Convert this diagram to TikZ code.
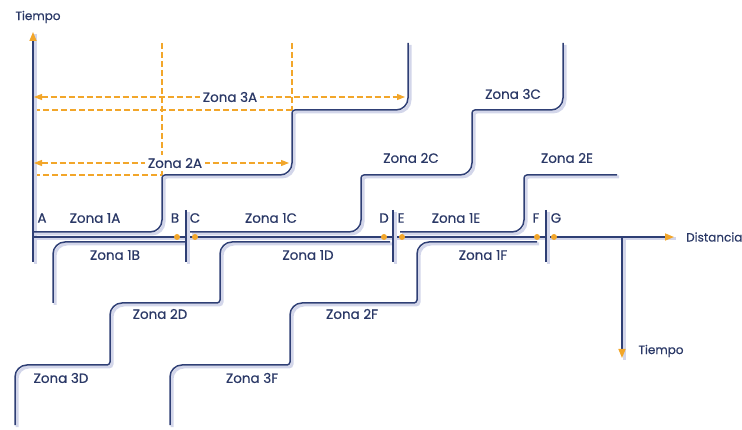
\documentclass[tikz,border=0pt]{standalone}
\usepackage{fontspec}
\setmainfont{Poppins}
\newfontfamily\lblfont{Poppins}[BoldFont=Poppins, BoldFeatures={FakeBold=0.5}]
\usetikzlibrary{arrows.meta}
\definecolor{navy}{HTML}{2F3F75}
\definecolor{shade}{HTML}{D3D6EA}
\definecolor{orng}{HTML}{F2A62A}
\definecolor{txt}{HTML}{2A3866}
\begin{document}
\begin{tikzpicture}[x=1pt,y=-1pt,
  road/.style={draw=navy, line width=1.5pt, line join=round,
    preaction={draw=shade, arrows=-, line width=3pt, transform canvas={shift={(2pt,-2pt)}}}},
  axisline/.style={road, -{Triangle[length=9pt,width=7pt,color=orng,fill=orng]}},
  sepbar/.style={road, line width=1.2pt},
  guide/.style={draw=orng, line width=1.1pt, dash pattern=on 6pt off 3pt},
  dimline/.style={guide, {Triangle[length=8pt,width=6pt,fill=orng]}-{Triangle[length=8pt,width=6pt,fill=orng]}},
  lbl/.style={text=txt, font=\lblfont\bfseries\fontsize{12}{14}\selectfont, inner sep=1pt},
  zlbl/.style={lbl, font=\lblfont\bfseries\fontsize{13.5}{15}\selectfont},
  dimlbl/.style={zlbl, fill=white, inner sep=3pt},
  odot/.style={circle, fill=orng, minimum size=6pt, inner sep=0pt}
]
\useasboundingbox (0,0) rectangle (742,430);

% dashed guides
\draw[guide] (162,43) -- (162,175);
\draw[guide] (292,43) -- (292,110);
\draw[guide] (34,110) -- (292,110);
\draw[guide] (34,175) -- (162,175);

% axes
\coordinate (t0) at (33,262);
\coordinate (t1) at (33,32);
\coordinate (d0) at (33,237);
\coordinate (d1) at (674,237);
\coordinate (s0) at (622,237);
\coordinate (s1) at (622,358);
\draw[axisline] (t0) -- (t1);
\draw[axisline] (d0) -- (d1);
\draw[axisline] (s0) -- (s1);

% upper staircases
\draw[road] (33,232) [rounded corners=12pt] -- (162,232) [rounded corners=3pt] -- (162,175) [rounded corners=12pt] -- (292,175) [rounded corners=3pt] -- (292,110) [rounded corners=12pt] -- (408,110) -- (408,43);
\draw[road] (190,232) [rounded corners=12pt] -- (361,232) [rounded corners=3pt] -- (361,175) [rounded corners=12pt] -- (472,175) [rounded corners=3pt] -- (472,110) [rounded corners=12pt] -- (563,110) -- (563,43);
\draw[road] (400,232) [rounded corners=12pt] -- (524,232) [rounded corners=3pt] -- (524,175) -- (617,175);

% lower staircases
\draw[road] (185,242) [rounded corners=12pt] -- (53,242) -- (53,303);
\draw[road] (390,242) [rounded corners=12pt] -- (220,242) [rounded corners=3pt] -- (220,303) [rounded corners=12pt] -- (110,303) [rounded corners=3pt] -- (110,365) [rounded corners=12pt] -- (15,365) -- (15,425);
\draw[road] (537,242) [rounded corners=12pt] -- (417,242) [rounded corners=3pt] -- (417,303) [rounded corners=12pt] -- (290,303) [rounded corners=3pt] -- (290,365) [rounded corners=12pt] -- (170,365) -- (170,425);

% separator bars
\draw[sepbar] (186,210) -- (186,262);
\draw[sepbar] (393,210) -- (393,262);
\draw[sepbar] (546,210) -- (546,262);

% dots
\node[odot] (pB) at (177,237) {};
\node[odot] (pC) at (195,237) {};
\node[odot] (pD) at (384,237) {};
\node[odot] (pE) at (402,237) {};
\node[odot] (pF) at (537,237) {};
\node[odot] (pG) at (554,237) {};

% dimension arrows
\coordinate (a3l) at (34,97);
\coordinate (a3r) at (405,97);
\coordinate (a2l) at (34,163);
\coordinate (a2r) at (289,163);
\draw[dimline] (a3l) -- (a3r);
\draw[dimline] (a2l) -- (a2r);
\node[dimlbl] (z3a) at (230,97) {Zona 3A};
\node[dimlbl] (z2a) at (175,163) {Zona 2A};

% labels
\node[lbl] (tt) at (38,17) {Tiempo};
\node[lbl, anchor=west] (dist) at (685,237) {Distancia};
\node[lbl] (tb) at (661,351) {Tiempo};

\node[zlbl] (lA) at (42,218) {A};
\node[zlbl] (lB) at (175,218) {B};
\node[zlbl] (lC) at (195,218) {C};
\node[zlbl] (lD) at (384,218) {D};
\node[zlbl] (lE) at (401,218) {E};
\node[zlbl] (lF) at (536,218) {F};
\node[zlbl] (lG) at (556,218) {G};

\node[zlbl] (z1a) at (95,218) {Zona 1A};
\node[zlbl] (z1c) at (271,218) {Zona 1C};
\node[zlbl] (z1e) at (456,218) {Zona 1E};
\node[zlbl] (z1b) at (115,255) {Zona 1B};
\node[zlbl] (z1d) at (308,255) {Zona 1D};
\node[zlbl] (z1f) at (483,255) {Zona 1F};
\node[zlbl] (z2c) at (411,158) {Zona 2C};
\node[zlbl] (z2e) at (567,158) {Zona 2E};
\node[zlbl] (z3c) at (513,94) {Zona 3C};
\node[zlbl] (z2d) at (160,314) {Zona 2D};
\node[zlbl] (z2f) at (352,314) {Zona 2F};
\node[zlbl] (z3d) at (61,378) {Zona 3D};
\node[zlbl] (z3f) at (252,378) {Zona 3F};
\end{tikzpicture}
\end{document}
